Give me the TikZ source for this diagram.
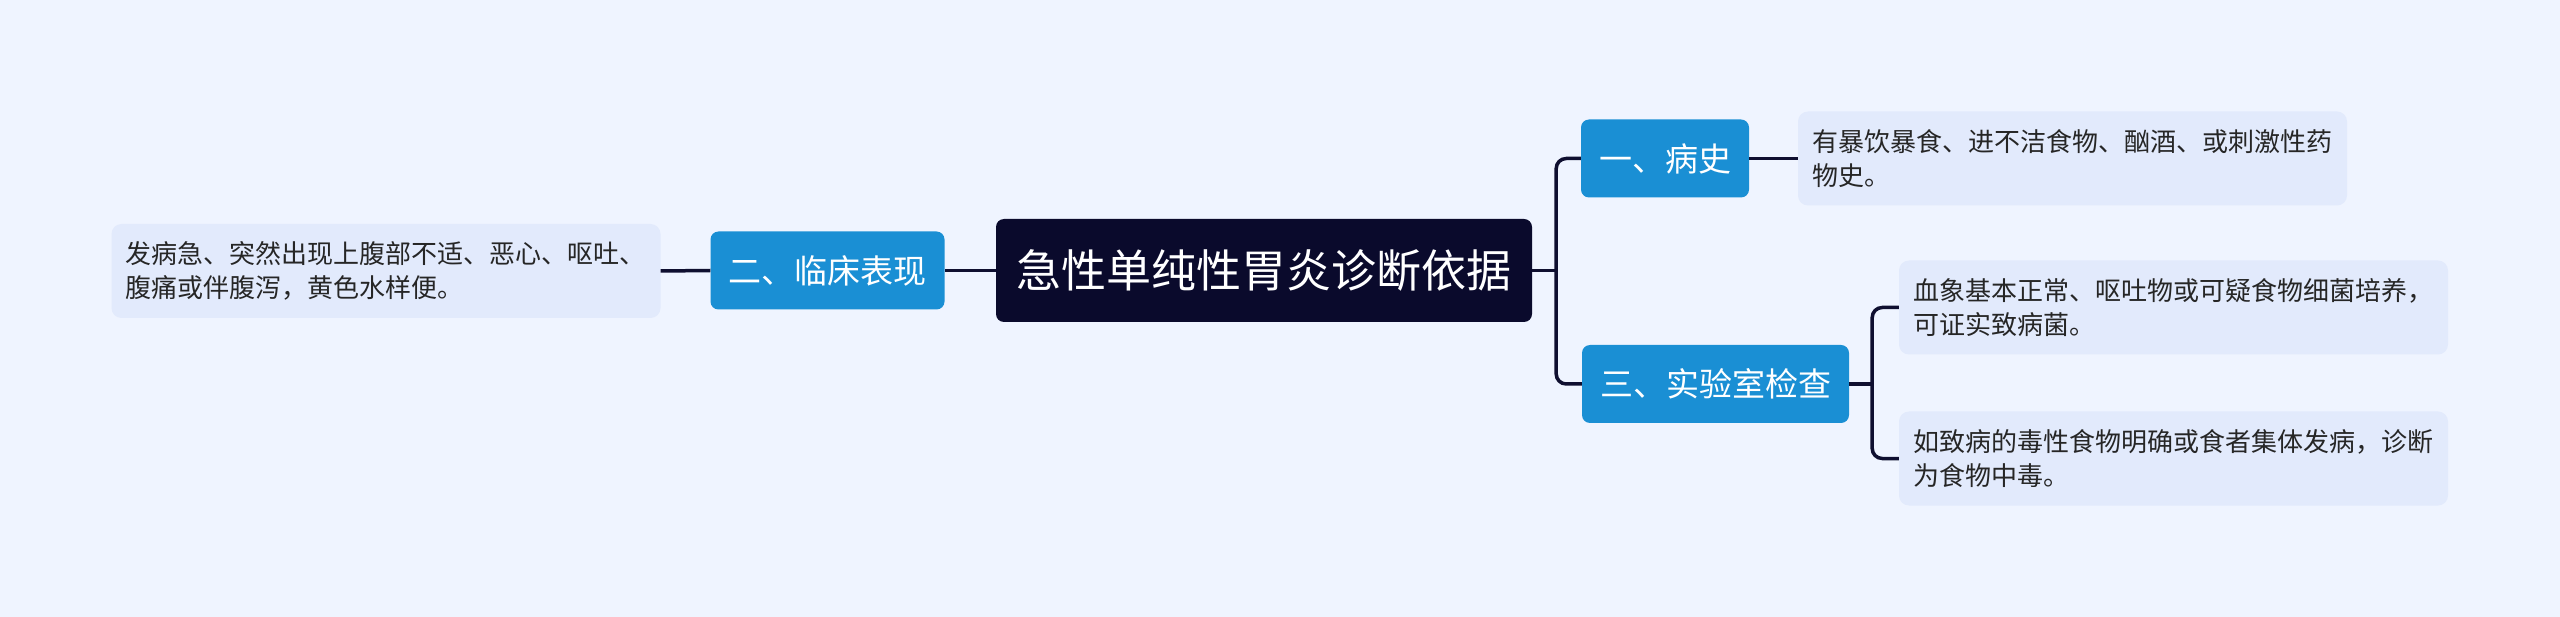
\documentclass[tikz,border=0pt]{standalone}
\usepackage{fontspec}
\newfontfamily\cjk{Noto Sans CJK SC}
\definecolor{bgblue}{HTML}{EFF4FF}
\definecolor{rootnavy}{HTML}{0A0A2C}
\definecolor{topicblue}{HTML}{1A8FD4}
\definecolor{leafblue}{HTML}{E2EAFC}
\definecolor{linenavy}{HTML}{0F0F30}
\tikzset{
  rootbox/.style={fill=rootnavy,text=white,rounded corners=8pt,minimum height=103pt,minimum width=536pt,inner xsep=20pt,font=\cjk\fontsize{45}{53}\selectfont},
  topic/.style={fill=topicblue,text=white,rounded corners=8pt,minimum height=78pt,inner xsep=18pt,font=\cjk\fontsize{33}{40}\selectfont},
  leaf/.style={fill=leafblue,text=black!85,rounded corners=10pt,minimum height=94pt,text width=521pt,inner xsep=14pt,align=left,font=\cjk\fontsize{26}{34}\selectfont},
  link/.style={draw=linenavy,line width=3.5pt,rounded corners=10pt}
}

\begin{document}
\begin{tikzpicture}[x=1pt,y=-1pt]
      \fill[bgblue] (0,0) rectangle (2560,617);
      \useasboundingbox (0,0) rectangle (2560,617);

      \node[rootbox] (root) at (1264,270.5) {急性单纯性胃炎诊断依据};
      \node[topic] (t2) at (827.5,270.5) {二、临床表现};
      \node[topic] (t1) at (1665,158.5) {一、病史};
      \node[topic] (t3) at (1715.5,384) {三、实验室检查};

      \node[leaf] (l2) at (386,271) {发病急、突然出现上腹部不适、恶心、呕吐、\\腹痛或伴腹泻，黄色水样便。};
      \node[leaf] (l1) at (2072.5,158.5) {有暴饮暴食、进不洁食物、酗酒、或刺激性药\\物史。};
      \node[leaf] (l3a) at (2173.5,307.5) {血象基本正常、呕吐物或可疑食物细菌培养，\\可证实致病菌。};
      \node[leaf] (l3b) at (2173.5,458.5) {如致病的毒性食物明确或食者集体发病，诊断\\为食物中毒。};

      \draw[link] (root.west) -- (t2.east);
      \draw[link] (t2.west) -- (l2.east);
      \draw[link] (root.east) -- ([xshift=24pt]root.east);
      \draw[link] (t1.west) -| ([xshift=24pt]root.east) |- (t3.west);
      \draw[link] (t1.east) -- (l1.west);
      \draw[link] (t3.east) -- ([xshift=23pt]t3.east);
      \draw[link] (l3a.west) -| ([xshift=23pt]t3.east) |- (l3b.west);
\end{tikzpicture}
\end{document}
